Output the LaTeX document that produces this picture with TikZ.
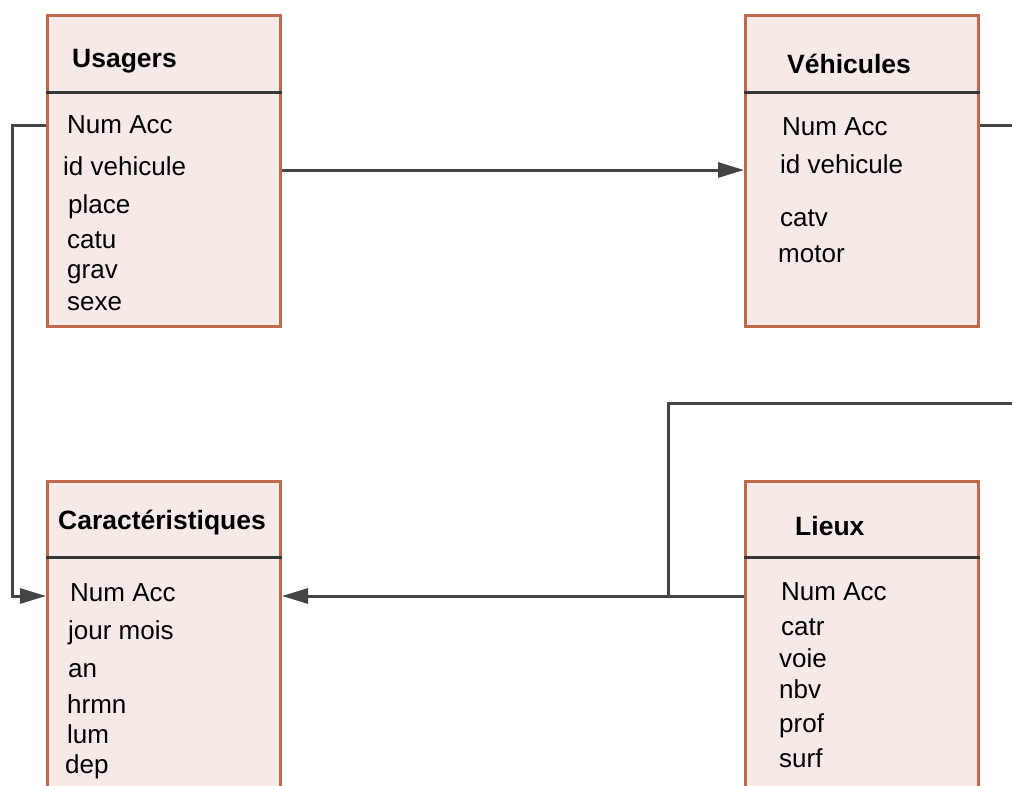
\documentclass[tikz,border=0pt]{standalone}
\usepackage{fontspec}
\setmainfont{Liberation Sans}
\usetikzlibrary{arrows.meta,positioning}

\definecolor{tablefill}{HTML}{F5EAE6}
\definecolor{tableedge}{HTML}{BE6A4A}
\definecolor{linkgray}{HTML}{444444}

\tikzset{
  tablebox/.style={draw=tableedge, fill=tablefill, line width=3pt,
    anchor=north west, minimum width=233pt, inner sep=0pt},
  divider/.style={draw=linkgray!80!black, line width=3pt},
  tabletitle/.style={anchor=base west, inner sep=0pt,
    font=\fontsize{26.5}{30}\selectfont\bfseries},
  field/.style={anchor=base west, inner sep=0pt,
    font=\fontsize{26}{30}\selectfont},
  link/.style={draw=linkgray, line width=3pt},
  arrowlink/.style={link, -{Triangle[length=26pt,width=15pt]}}
}

\begin{document}
\begin{tikzpicture}[x=1pt,y=-1pt]
    \useasboundingbox (0,0) rectangle (1012,785);
    \clip (0,0) rectangle (1012,785);

    % Tables
    \node[tablebox, minimum height=311pt] (usa) at (46,14) {};
    \node[tablebox, minimum height=311pt] (veh) at (744,14) {};
    \node[tablebox, minimum height=340pt] (car) at (46,480) {};
    \node[tablebox, minimum height=340pt] (lie) at (744,480) {};

    % Header lines
    \draw[divider] (usa.west |- 0,92) -- (usa.east |- 0,92);
    \draw[divider] (veh.west |- 0,92) -- (veh.east |- 0,92);
    \draw[divider] (car.west |- 0,557) -- (car.east |- 0,557);
    \draw[divider] (lie.west |- 0,557) -- (lie.east |- 0,557);

    % Titles
    \node[tabletitle] (usatitle) at (72,67) {Usagers};
    \node[tabletitle] (vehtitle) at (787,73) {Véhicules};
    \node[tabletitle] (cartitle) at (58,529) {Caractéristiques};
    \node[tabletitle] (lietitle) at (795,535) {Lieux};

    % Fields
    \node[field] (usanum) at (67,133) {Num Acc};
    \node[field] (usaid) at (63,175) {id vehicule};
    \foreach \name/\txt/\x/\y in {usaplace/place/68/213, usacatu/catu/67/248,
        usagrav/grav/67/278, usasexe/sexe/67/310}
      \node[field] (\name) at (\x,\y) {\txt};

    \node[field] (vehnum) at (782,135) {Num Acc};
    \node[field] (vehid) at (780,173) {id vehicule};
    \node[field] (vehcatv) at (780,226) {catv};
    \node[field] (vehmotor) at (778,262) {motor};

    \node[field] (carnum) at (70,601) {Num Acc};
    \foreach \name/\txt/\x/\y in {carjour/jour mois/68/639, caran/an/68/677,
        carhrmn/hrmn/67/713, carlum/lum/67/743, cardep/dep/65/773}
      \node[field] (\name) at (\x,\y) {\txt};

    \node[field] (lienum) at (781,600) {Num Acc};
    \foreach \name/\txt/\x/\y in {liecatr/catr/781/635, lievoie/voie/779/667,
        lienbv/nbv/779/698, lieprof/prof/779/732, liesurf/surf/779/767}
      \node[field] (\name) at (\x,\y) {\txt};

    % Free ends and bend points
    \coordinate (usabend) at (12,125);
    \coordinate (vehexit) at (1012,125);
    \coordinate (liesplit) at (668,596);
    \coordinate (lieexit) at (1012,403);

    % Links
    \draw[arrowlink] (usa.west |- usabend) -- (usabend) |- (car.west |- liesplit);
    \draw[arrowlink] (usa.east |- 0,170) -- (veh.west |- 0,170);
    \draw[link] (veh.east |- vehexit) -- (vehexit);
    \draw[arrowlink] (lie.west |- liesplit) -- (car.east |- liesplit);
    \draw[link] (liesplit) |- (lieexit);
\end{tikzpicture}
\end{document}
